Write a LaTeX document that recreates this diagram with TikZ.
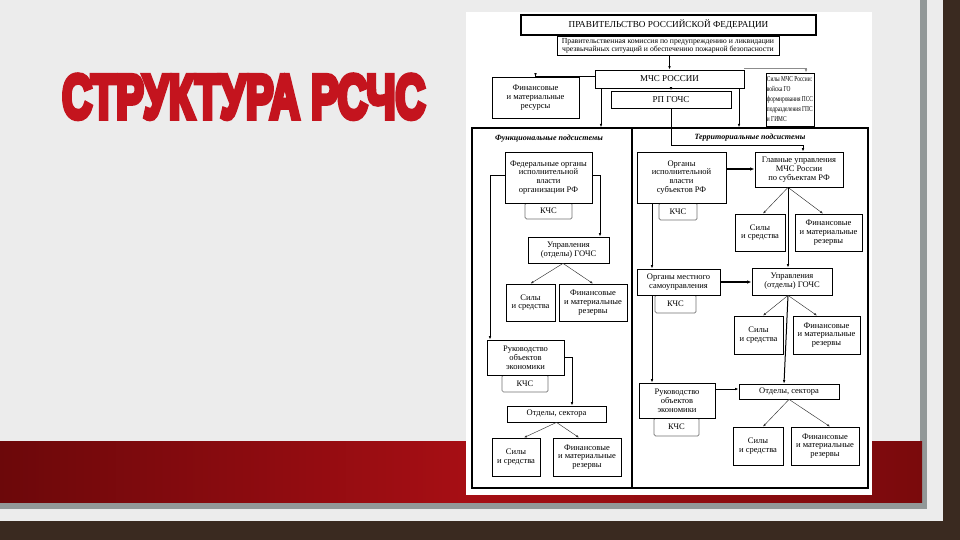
\documentclass[tikz,border=0pt]{standalone}
\usepackage{fontspec}
\usepackage{graphicx}
\setmainfont{Liberation Serif}
\newfontfamily\titlefont{Liberation Sans}[BoldFeatures={FakeBold=9}]
\usetikzlibrary{arrows.meta,calc}
\definecolor{titlered}{RGB}{196,20,30}
\definecolor{woodbg}{RGB}{58,42,32}
\definecolor{slidegray}{RGB}{236,236,236}
\definecolor{shadowgray}{RGB}{146,152,152}
\definecolor{banddark}{RGB}{108,8,10}
\definecolor{bandmid}{RGB}{166,14,20}
\definecolor{bandright}{RGB}{122,10,12}
\begin{document}
\begin{tikzpicture}[x=1pt,y=-1pt,
  box/.style={draw=black,line width=0.8pt,fill=white,inner sep=1pt,align=center,font=\fontsize{8.5}{8.8}\selectfont},
  thickbox/.style={box,line width=1.2pt},
  kchs/.style={box,draw=black!55,line width=0.7pt,rounded corners=1.5pt},
  sysframe/.style={draw=black,line width=1.3pt,inner sep=0pt},
  hdr/.style={font=\fontsize{8}{8.5}\selectfont\itshape\bfseries,inner sep=0pt},
  arr/.style={draw=black,line width=0.7pt,-{Latex[length=3.5pt,width=2.6pt]}},
  thinarr/.style={draw=black!80,line width=0.45pt,-{Latex[length=3pt,width=2.2pt]}},
  thkarr/.style={draw=black,line width=1.2pt,-{Latex[length=4.5pt,width=3.4pt]}},
  grayarr/.style={draw=black!45,line width=0.7pt,-{Latex[length=3.5pt,width=2.6pt]}}]
\useasboundingbox (0,0) rectangle (960,540);
% slide background
\fill[woodbg] (0,0) rectangle (960,540);
\fill[slidegray] (0,0) rectangle (943,521);
\fill[shadowgray] (920,0) rectangle (927,509);
\fill[shadowgray] (0,503) rectangle (927,509);
\shade[left color=banddark,right color=bandright,middle color=bandmid] (0,441) rectangle (922,502);
\fill[white] (466,12) rectangle (872,495);
% title
\node[text=titlered,inner sep=0pt,anchor=base west] (title) at (62,118)
  {\resizebox{363pt}{43pt}{\titlefont\bfseries СТРУКТУРА РСЧС}};
% frames
\node[sysframe,minimum width=160pt,minimum height=360pt] (frameL) at (552,308) {};
\node[sysframe,minimum width=236pt,minimum height=360pt] (frameR) at (750,308) {};
\node[hdr] (hdrL) at (549,139) {Функциональные подсистемы};
\node[hdr] (hdrR) at (750,138) {Территориальные подсистемы};
% top part
\node[thickbox,font=\fontsize{9.2}{9.5}\selectfont,minimum width=295pt,minimum height=20pt] (gov) at (668.5,25) {ПРАВИТЕЛЬСТВО РОССИЙСКОЙ ФЕДЕРАЦИИ};
\node[box,font=\fontsize{7.7}{8.2}\selectfont,minimum width=222pt,minimum height=19pt] (com) at (668,45.5) {Правительственная комиссия по предупреждению и ликвидации\\чрезвычайных ситуаций и обеспечению пожарной безопасности};
\node[box,font=\fontsize{9}{9}\selectfont,minimum width=149pt,minimum height=18pt] (mchs) at (669.5,79) {МЧС РОССИИ};
\node[box,minimum width=87pt,minimum height=41pt] (fin0) at (535.5,97.5) {Финансовые\\и материальные\\ресурсы};
\node[box,font=\fontsize{9}{9}\selectfont,minimum width=120pt,minimum height=17pt] (rp) at (671,99.5) {РП ГОЧС};
\node[box,minimum width=48pt,minimum height=53pt] (sily0) at (790,99.5) {\scalebox{0.72}[1]{\fontsize{7.5}{9.8}\selectfont\begin{tabular}{@{}l@{}}Силы МЧС России:\\войска ГО\\формирования ПСС\\подразделения ГПС\\и ГИМС\end{tabular}}};
% left column
\node[kchs,minimum width=47pt,minimum height=16pt] (k1) at (548.5,211) {КЧС};
\node[box,minimum width=87pt,minimum height=51pt] (fed) at (548.5,177.5) {Федеральные органы\\исполнительной\\власти\\организации РФ};
\node[box,minimum width=81pt,minimum height=26pt] (uprL) at (568.5,250) {Управления\\(отделы) ГОЧС};
\node[box,minimum width=49pt,minimum height=37pt] (silyL1) at (530.5,302.5) {Силы\\и средства};
\node[box,minimum width=68pt,minimum height=37pt] (finL1) at (593,302.5) {Финансовые\\и материальные\\резервы};
\node[kchs,minimum width=46pt,minimum height=17pt] (k2) at (525,383.5) {КЧС};
\node[box,minimum width=77pt,minimum height=35pt] (rukL) at (525.5,357.5) {Руководство\\объектов\\экономики};
\node[box,minimum width=99pt,minimum height=16pt] (otdL) at (556.5,414) {Отделы, сектора};
\node[box,minimum width=48pt,minimum height=38pt] (silyL2) at (516,457) {Силы\\и средства};
\node[box,minimum width=68pt,minimum height=38pt] (finL2) at (587,457) {Финансовые\\и материальные\\резервы};
% right column
\node[kchs,minimum width=38pt,minimum height=17pt] (k3) at (678,211.5) {КЧС};
\node[box,minimum width=89pt,minimum height=51pt] (org) at (681.5,177.5) {Органы\\исполнительной\\власти\\субъектов РФ};
\node[box,minimum width=88pt,minimum height=35pt] (gu) at (799,169.5) {Главные управления\\МЧС России\\по субъектам РФ};
\node[box,minimum width=50pt,minimum height=37pt] (silyR1) at (760,232.5) {Силы\\и средства};
\node[box,minimum width=67pt,minimum height=37pt] (finR1) at (828.5,232.5) {Финансовые\\и материальные\\резервы};
\node[kchs,minimum width=41pt,minimum height=18pt] (k4) at (675.5,304) {КЧС};
\node[box,minimum width=83pt,minimum height=26pt] (oms) at (678.5,282) {Органы местного\\самоуправления};
\node[box,minimum width=80pt,minimum height=27pt] (uprR) at (792,281.5) {Управления\\(отделы) ГОЧС};
\node[box,minimum width=49pt,minimum height=38pt] (silyR2) at (758.5,335) {Силы\\и средства};
\node[box,minimum width=67pt,minimum height=38pt] (finR2) at (826.5,335) {Финансовые\\и материальные\\резервы};
\node[kchs,minimum width=45pt,minimum height=18pt] (k5) at (676.5,427) {КЧС};
\node[box,minimum width=76pt,minimum height=35pt] (rukR) at (677,400.5) {Руководство\\объектов\\экономики};
\node[box,minimum width=100pt,minimum height=15pt] (otdR) at (789,391.5) {Отделы, сектора};
\node[box,minimum width=50pt,minimum height=38pt] (silyR3) at (758,446) {Силы\\и средства};
\node[box,minimum width=68pt,minimum height=38pt] (finR3) at (825,446) {Финансовые\\и материальные\\резервы};
% connectors: top
\draw[arr] (com.south -| mchs.north) -- (mchs.north);
\draw[arr] ([yshift=3pt]mchs.west) -| (fin0.north);
\draw[arr] (rp.north |- mchs.south) -- (rp.north);
\draw[grayarr] ([yshift=1pt]mchs.north east) -| ([xshift=16pt]sily0.north);
\draw[arr] ([xshift=-68.5pt]mchs.south) coordinate (m1) -- (m1 |- frameL.north);
\draw[arr] ([xshift=69.5pt]mchs.south) coordinate (m2) -- (m2 |- frameR.north);
\draw[arr] (rp.south) -- ++(0,37) -| ([xshift=4pt]gu.north);
% left column
\draw[arr] ([yshift=2.5pt]fed.east) -| ([xshift=31.5pt]uprL.north);
\draw[arr] ([yshift=2.5pt]fed.west) -| ([xshift=-35.5pt]rukL.north);
\draw[thinarr] ([xshift=-5.5pt]uprL.south) -- (silyL1.north);
\draw[thinarr] ([xshift=-5.5pt]uprL.south) -- (finL1.north);
\draw[arr] (rukL.east) -| ([xshift=15.5pt]otdL.north);
\draw[thinarr] (otdL.south) -- ([xshift=8pt]silyL2.north);
\draw[thinarr] (otdL.south) -- ([xshift=-8pt]finL2.north);
% right column
\draw[thkarr] ([yshift=8.5pt]org.east) -- ([yshift=8.5pt]org.east -| gu.west);
\draw[thinarr] ([xshift=-11pt]gu.south) -- ([xshift=3pt]silyR1.north);
\draw[thinarr] ([xshift=-11pt]gu.south) -- ([xshift=-5.5pt]finR1.north);
\draw[arr,line width=1pt] ([xshift=-11pt]gu.south) -- ([xshift=-4pt]uprR.north);
\draw[arr] ([xshift=-29.5pt]org.south) coordinate (o1) -- (o1 |- oms.north);
\draw[thkarr] (oms.east) -- (oms.east -| uprR.west);
\draw[thinarr] ([xshift=-4pt]uprR.south) -- ([xshift=4.5pt]silyR2.north);
\draw[thinarr] ([xshift=-4pt]uprR.south) -- ([xshift=-9.5pt]finR2.north);
\draw[arr,line width=1pt] ([xshift=-4pt]uprR.south) -- ([xshift=-5pt]otdR.north);
\draw[arr] ([xshift=-26.5pt]oms.south) coordinate (o2) -- (o2 |- rukR.north);
\draw[arr] ([yshift=11.5pt]rukR.east) -- ([yshift=11.5pt]rukR.east -| otdR.west);
\draw[thinarr] (otdR.south) -- ([xshift=5pt]silyR3.north);
\draw[thinarr] (otdR.south) -- ([xshift=5pt]finR3.north);
\end{tikzpicture}
\end{document}
